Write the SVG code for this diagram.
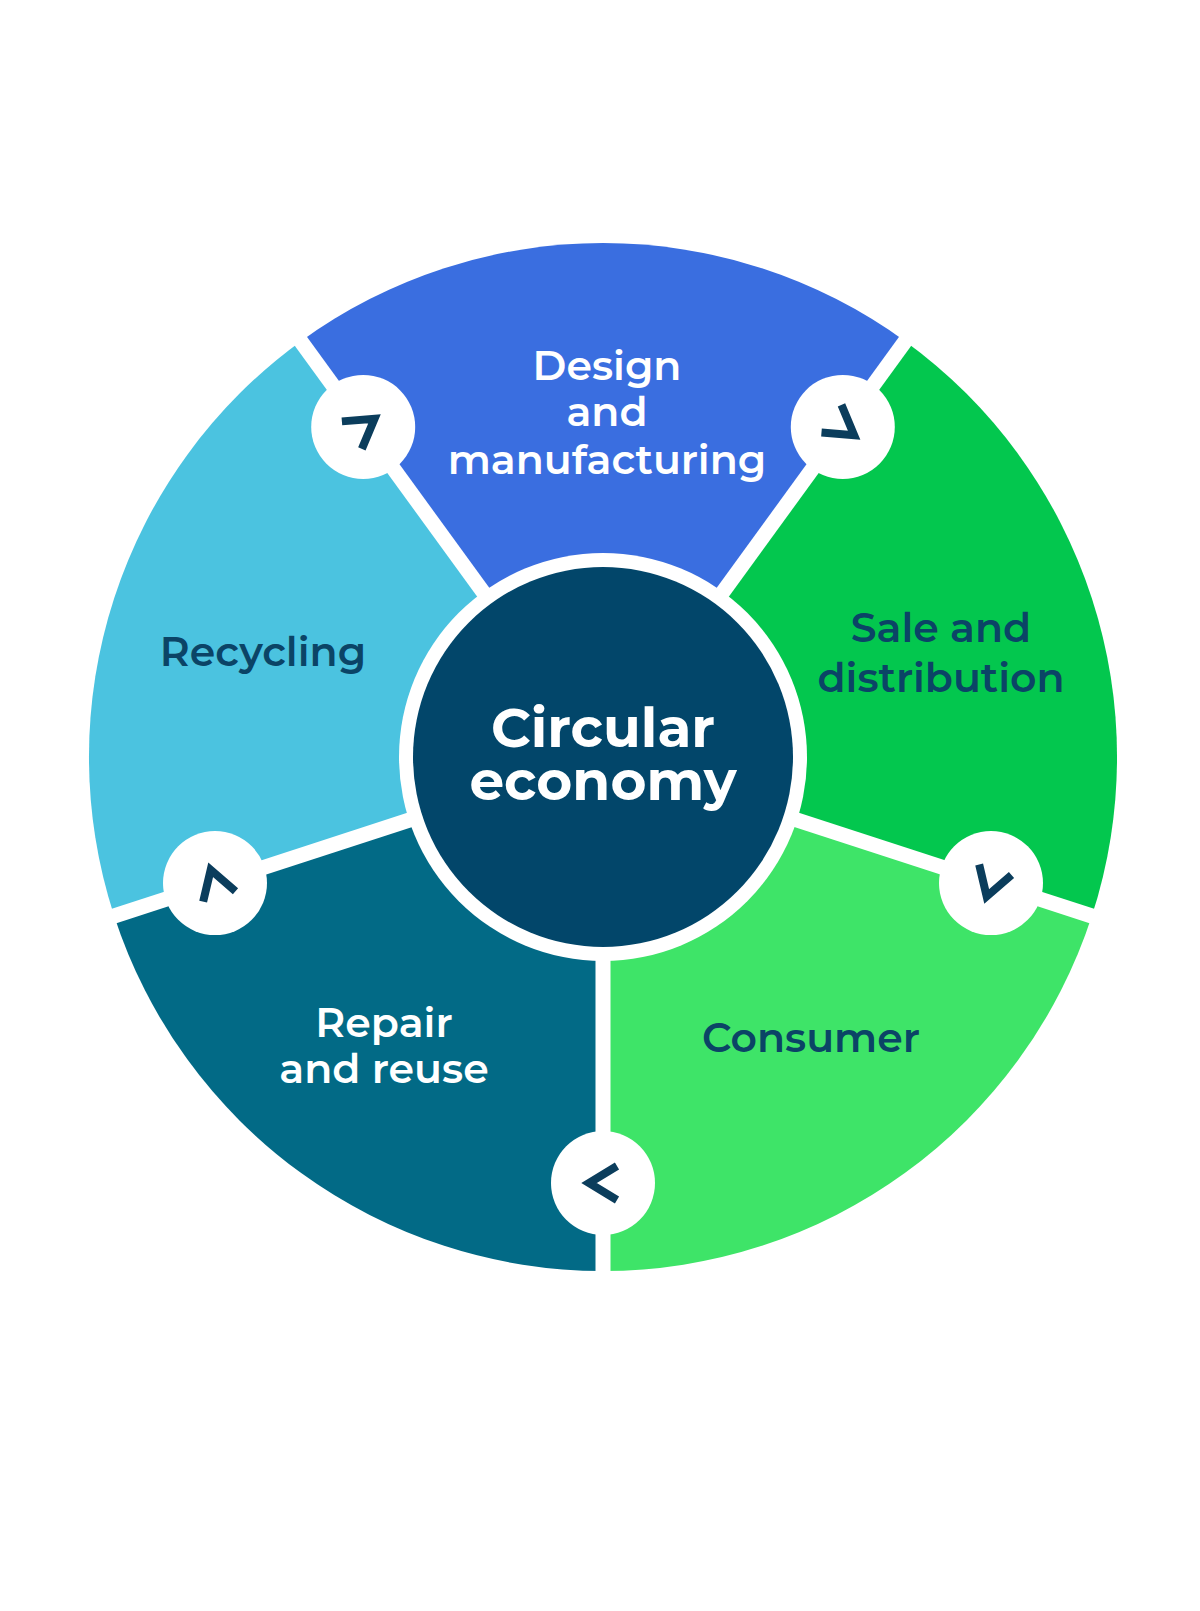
<svg xmlns="http://www.w3.org/2000/svg" width="1200" height="1611" viewBox="0 0 1200 1611">
<style>
.lbl{font-family:Montserrat,"Noto Sans","Open Sans",sans-serif;font-size:41px;font-weight:600;text-anchor:middle}
.dk{fill:#0b4466}.wh{fill:#ffffff}
.ctr{font-family:Montserrat,"Noto Sans","Open Sans",sans-serif;font-size:55px;font-weight:700;text-anchor:middle;fill:#ffffff}
.badge{fill:#ffffff}
.chev{fill:none;stroke:#0b3d5c;stroke-width:8;stroke-linecap:butt;stroke-linejoin:miter}
.div{stroke:#ffffff;stroke-width:15}
</style>
<rect width="1200" height="1611" fill="#ffffff"/>
<g id="design"><path d="M603 757 L300.9 341.2 A514 514 0 0 1 905.1 341.2 Z" fill="#3a6ee0"/>
<text class="lbl wh" x="607" y="380">Design</text><text class="lbl wh" x="607" y="426">and</text><text class="lbl wh" x="607" y="474">manufacturing</text></g>
<g id="sale"><path d="M603 757 L905.1 341.2 A514 514 0 0 1 1091.9 915.8 Z" fill="#03c74e"/>
<text class="lbl dk" x="941" y="642">Sale and</text><text class="lbl dk" x="941" y="692">distribution</text></g>
<g id="consumer"><path d="M603 757 L1091.9 915.8 A514 514 0 0 1 603 1271 Z" fill="#3ee468"/>
<text class="lbl dk" x="811" y="1052">Consumer</text></g>
<g id="repair"><path d="M603 757 L603 1271 A514 514 0 0 1 114.1 915.8 Z" fill="#026a86"/>
<text class="lbl wh" x="384" y="1037">Repair</text><text class="lbl wh" x="384" y="1083">and reuse</text></g>
<g id="recycling"><path d="M603 757 L114.1 915.8 A514 514 0 0 1 300.9 341.2 Z" fill="#4bc3e0"/>
<text class="lbl dk" x="263" y="666">Recycling</text></g>
<g id="connectors">
<line class="div" x1="603" y1="757" x2="297" y2="336"/>
<line class="div" x1="603" y1="757" x2="909" y2="336"/>
<line class="div" x1="603" y1="757" x2="1098" y2="918"/>
<line class="div" x1="603" y1="757" x2="603" y2="1280"/>
<line class="div" x1="603" y1="757" x2="108" y2="918"/>
<g transform="translate(363.2 426.9)"><circle class="badge" r="52"/><polyline class="chev" transform="rotate(144)" points="14,-17 -14,0 14,17"/></g>
<g transform="translate(842.8 426.9)"><circle class="badge" r="52"/><polyline class="chev" transform="rotate(216)" points="14,-17 -14,0 14,17"/></g>
<g transform="translate(991 883.1)"><circle class="badge" r="52"/><polyline class="chev" transform="rotate(-72)" points="14,-17 -14,0 14,17"/></g>
<g transform="translate(603 1183)"><circle class="badge" r="52"/><polyline class="chev" transform="rotate(0)" points="14,-17 -14,0 14,17"/></g>
<g transform="translate(215 883.1)"><circle class="badge" r="52"/><polyline class="chev" transform="rotate(72)" points="14,-17 -14,0 14,17"/></g>
</g>
<g id="center"><circle cx="603" cy="757" r="204" fill="#ffffff"/><circle cx="603" cy="757" r="190" fill="#02466a"/>
<text class="ctr" x="603" y="747">Circular</text><text class="ctr" x="603" y="800">economy</text></g>
</svg>
